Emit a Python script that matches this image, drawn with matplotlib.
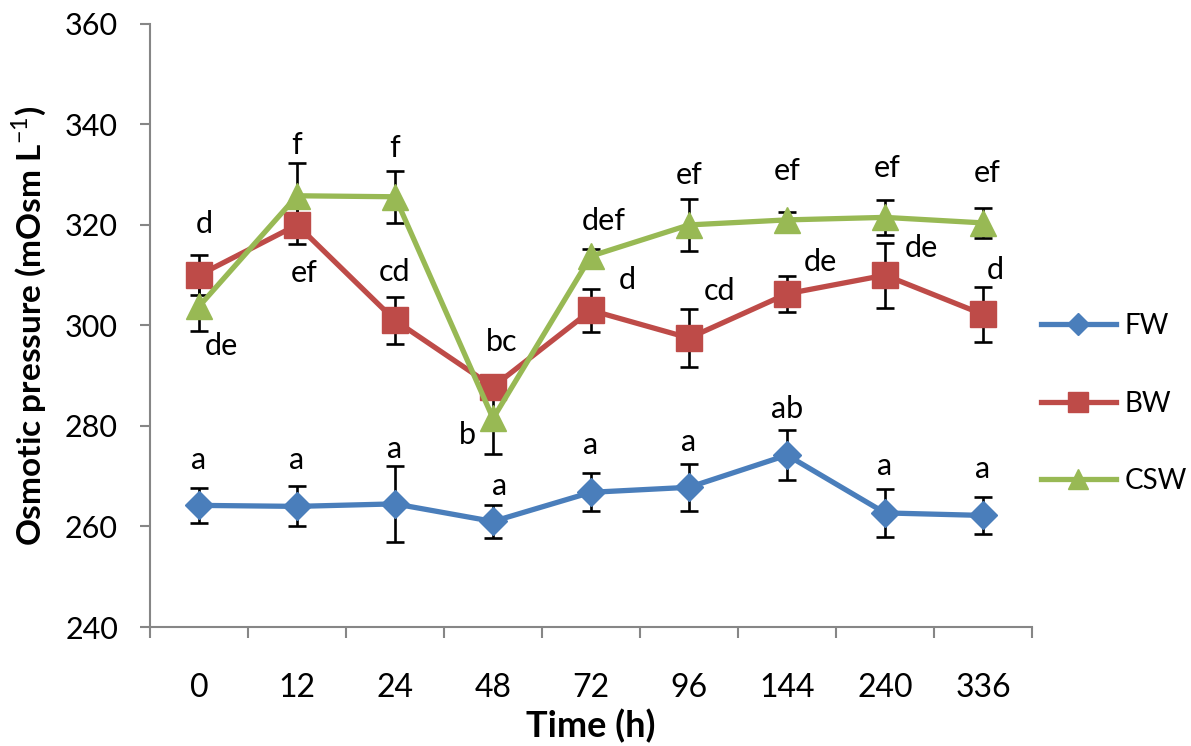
import numpy as np
import matplotlib
matplotlib.use("Agg")
import matplotlib.pyplot as plt

plt.rcParams['font.family'] = ['Lato', 'DejaVu Sans']
plt.rcParams['mathtext.fontset'] = 'custom'
plt.rcParams['mathtext.rm'] = 'Lato'
plt.rcParams['mathtext.bf'] = 'Lato:bold'

# data
times = ['0', '12', '24', '48', '72', '96', '144', '240', '336']

fw = [264.2, 264.0, 264.5, 261.0, 266.8, 267.8, 274.2, 262.7, 262.2]
fw_err = [3.5, 4.0, 7.5, 3.3, 3.8, 4.7, 4.9, 4.7, 3.6]
fw_lbl = ['a', 'a', 'a', 'a', 'a', 'a', 'ab', 'a', 'a']

bw = [310.0, 320.0, 301.0, 287.8, 303.0, 297.5, 306.3, 310.0, 302.2]
bw_err = [4.0, 3.8, 4.6, 2.0, 4.3, 5.8, 3.6, 6.5, 5.5]
bw_lbl = ['d', 'ef', 'cd', 'bc', 'd', 'cd', 'de', 'de', 'd']

csw = [303.8, 325.8, 325.6, 281.5, 313.8, 320.0, 321.0, 321.5, 320.4]
csw_err = [5.0, 6.5, 5.2, 7.0, 1.5, 5.2, 1.5, 3.5, 3.0]
csw_lbl = ['de', 'f', 'f', 'b', 'def', 'ef', 'ef', 'ef', 'ef']

# label offsets (px) from each point
fw_off = [(0, 45), (0, 46), (0, 55), (7, 35), (0, 47), (0, 45), (0, 46), (0, 47), (0, 46)]
bw_off = [(5, 51), (7, -48), (0, 48), (9, 45), (36, 30), (31, 47), (33, 32), (36, 27), (12, 44)]
csw_off = [(22, -40), (0, 51), (0, 49), (-26, -17), (13, 35), (0, 50), (0, 49), (2, 49), (4, 50)]

fig = plt.figure(figsize=(11.91, 7.46), dpi=100)
ax = fig.add_axes([0.126, 0.1595, 0.7405, 0.8085])

x = np.arange(len(times))
px = 0.72  # px -> points at dpi 100

series = [
    ('FW', fw, fw_err, fw_lbl, fw_off, '#4A7EBB', 'D', 14),
    ('BW', bw, bw_err, bw_lbl, bw_off, '#BE4B48', 's', 18.5),
    ('CSW', csw, csw_err, csw_lbl, csw_off, '#98B954', '^', 18.5),
]

for name, y, err, lbl, off, col, mk, ms in series:
    ax.errorbar(x, y, yerr=err, fmt='none', ecolor='black', elinewidth=1.9,
                capsize=6.5, capthick=1.9, zorder=2)
for i, (name, y, err, lbl, off, col, mk, ms) in enumerate(series):
    ax.plot(x, y, color=col, lw=3.8, marker=mk, markersize=ms,
            markeredgecolor=col, label=name, zorder=3 + i)
    for xi, yi, t, (dx, dy) in zip(x, y, lbl, off):
        ax.annotate(t, (xi, yi), xytext=(dx * px, dy * px), textcoords='offset points',
                    ha='center', va='center', fontsize=22, zorder=10)

ax.set_xlim(-0.5, len(times) - 0.5)
ax.set_ylim(240, 360)
ax.set_yticks(np.arange(240, 361, 20))
ax.set_xticks(x)
ax.set_xticklabels(times)
ax.set_xticks(np.arange(-0.5, len(times), 1), minor=True)
ax.tick_params(axis='x', which='major', length=0, pad=33, labelsize=23)
ax.tick_params(axis='x', which='minor', length=8, width=1.5, color='#868686', direction='out')
ax.tick_params(axis='y', length=7, width=1.5, color='#868686', labelsize=22, pad=16)

for s in ['top', 'right']:
    ax.spines[s].set_visible(False)
for s in ['left', 'bottom']:
    ax.spines[s].set_color('#868686')
    ax.spines[s].set_linewidth(1.5)

ax.set_xlabel('Time (h)', fontsize=26, fontweight='bold', labelpad=4)
ax.set_ylabel(r'Osmotic pressure (mOsm L$^{\mathrm{-1}}$)', fontsize=24,
              fontweight='bold', labelpad=12)

ax.legend(loc='center left', bbox_to_anchor=(0.853, 0.459), bbox_transform=fig.transFigure,
          frameon=False, fontsize=20, handlelength=2.7, labelspacing=1.85,
          handletextpad=0.3, markerscale=0.8)

fig.savefig('out.png', dpi=100)
